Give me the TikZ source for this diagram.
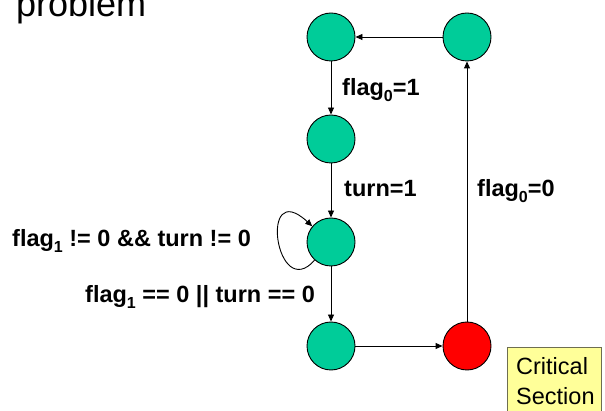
\documentclass[tikz,border=0pt]{standalone}
\usepackage{fontspec}
\setmainfont{Liberation Sans}
\usetikzlibrary{arrows.meta}
\definecolor{stategreen}{HTML}{00CC99}
\definecolor{notey}{HTML}{FFFF99}
\definecolor{noteborder}{HTML}{6E6E50}
\newcommand\sbs[1]{\raisebox{-6pt}{\fontsize{16}{16}\selectfont #1}}
\begin{document}
\begin{tikzpicture}[x=1pt,y=-1pt,
  state/.style={circle, draw=black, line width=0.9pt, fill=stategreen, minimum size=48pt, inner sep=0pt},
  crit/.style={state, fill=red},
  edge/.style={draw=black, line width=0.9pt, -{Triangle[length=7pt,width=6pt]}},
  lbl/.style={anchor=base west, inner sep=0pt, font=\fontsize{23.5}{28}\selectfont\bfseries},
  notetext/.style={anchor=base west, inner sep=0pt, font=\fontsize{23.5}{28}\selectfont},
  notebox/.style={draw=noteborder, line width=0.8pt, fill=notey, anchor=north west, minimum width=94pt, minimum height=90pt, inner sep=0pt}]
\useasboundingbox (0,0) rectangle (605,411);
\node[anchor=base west, inner sep=0pt, font=\fontsize{36}{40}\selectfont] (title) at (16,17) {problem};
\node[state] (s1) at (331,37) {};
\node[state] (s0) at (467,37) {};
\node[state] (s2) at (331,139) {};
\node[state] (s3) at (331,242) {};
\node[state] (s4) at (331,346) {};
\node[crit] (cs) at (467,346) {};
\draw[edge] (s0) -- (s1);
\draw[edge] (s1) -- (s2);
\draw[edge] (s2) -- (s3);
\draw[edge] (s3) -- (s4);
\draw[edge] (s4) -- (cs);
\draw[edge] (cs) -- (s0);
\draw[edge] (s3.228) .. controls (276,304) and (258,176) .. (s3.140);
\node[lbl] (l1) at (342,96) {flag\sbs{0}=1};
\node[lbl] (l2) at (344,197) {turn=1};
\node[lbl] (l3) at (477,197) {flag\sbs{0}=0};
\node[lbl] (l4) at (12,247) {flag\sbs{1} != 0 \&\& turn != 0};
\node[lbl] (l5) at (85,303) {flag\sbs{1} == 0 || turn == 0};
\node[notebox] (note) at (507,347) {};
\node[notetext] (crit1) at (516,375) {Critical};
\node[notetext] (crit2) at (516,405) {Section};
\end{tikzpicture}
\end{document}
